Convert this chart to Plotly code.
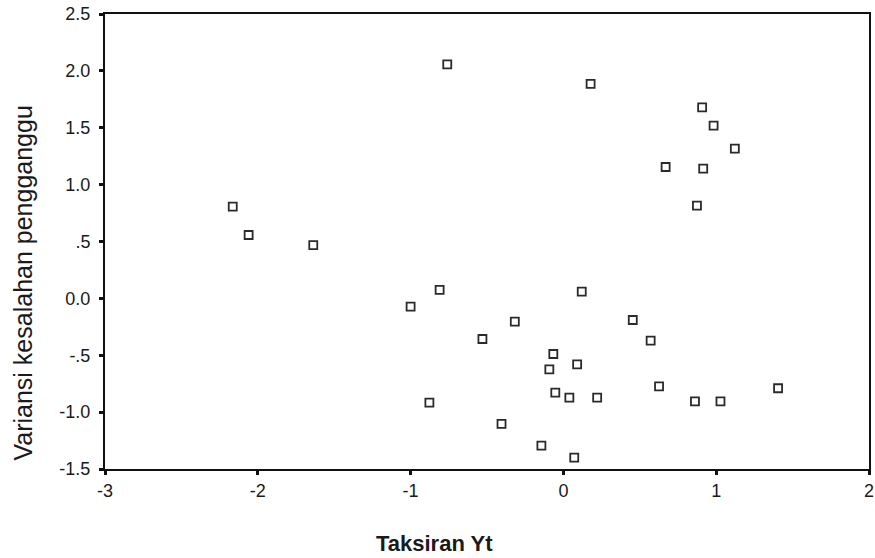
import plotly.graph_objects as go

x_vals = [-0.76, 0.178, 0.908, 0.983, 1.122, 0.669, 0.915, 0.874, -2.164, -2.06, -1.637,
          -0.81, 0.12, -1.0, -0.318, 0.454, -0.53, 0.571, -0.066, 0.09, -0.092, 0.626,
          1.405, -0.053, 0.039, 0.221, -0.877, 0.861, 1.028, -0.405, -0.144, 0.071]
y_vals = [2.058, 1.885, 1.68, 1.518, 1.316, 1.155, 1.14, 0.815, 0.806, 0.557, 0.469,
          0.074, 0.059, -0.073, -0.205, -0.19, -0.357, -0.372, -0.489, -0.58, -0.624, -0.773,
          -0.79, -0.829, -0.873, -0.873, -0.917, -0.905, -0.905, -1.104, -1.295, -1.40]

x_ticks = [-3, -2, -1, 0, 1, 2]
x_tick_text = ["-3", "-2", "-1", "0", "1", "2"]
y_ticks = [2.5, 2.0, 1.5, 1.0, 0.5, 0.0, -0.5, -1.0, -1.5]
y_tick_text = ["2.5", "2.0", "1.5", "1.0", ".5", "0.0", "-.5", "-1.0", "-1.5"]

x_title = "Taksiran Yt"
y_title = "Variansi kesalahan pengganggu"

font_family = "Liberation Sans, Arial, sans-serif"

W, H = 875, 558
L, R, T, B = 105, 1, 14, 89
pw, ph = W - L - R, H - T - B

fig = go.Figure()
fig.add_trace(go.Scatter(
    x=x_vals, y=y_vals, mode="markers",
    marker=dict(symbol="square-open", size=8, color="#2a2a2a", line=dict(width=1.8, color="#2a2a2a")),
    showlegend=False,
))

axis_common = dict(
    showgrid=False, zeroline=False, showline=True, mirror=True,
    linecolor="#111111", linewidth=2,
    ticks="outside", ticklen=4, tickwidth=3, tickcolor="#111111",
    tickfont=dict(family=font_family, size=18, color="#1a1a1a"),
    ticklabeloverflow="allow",
)

fig.update_layout(
    width=W, height=H,
    margin=dict(l=L, r=R, t=T, b=B),
    paper_bgcolor="white", plot_bgcolor="white",
    xaxis=dict(range=[-3, 2], tickvals=x_ticks, ticktext=x_tick_text, **axis_common),
    yaxis=dict(range=[-1.5, 2.5], tickvals=y_ticks, ticktext=y_tick_text,
               ticklabelstandoff=5, **axis_common),
    annotations=[
        dict(text="<b>" + x_title + "</b>", xref="paper", yref="paper",
             x=(437 - L) / pw, y=-(543 - (H - B)) / ph,
             xanchor="center", yanchor="middle", showarrow=False,
             font=dict(family=font_family, size=22, color="#1a1a1a")),
        dict(text=y_title, xref="paper", yref="paper",
             x=-(L - 22) / pw, y=((H - B) - 283) / ph,
             xanchor="center", yanchor="middle", showarrow=False, textangle=-90,
             font=dict(family=font_family, size=25, color="#1a1a1a")),
    ],
)

fig.write_html("out.html", config={"displayModeBar": False},
               post_script="document.body.style.margin='0';document.body.style.overflow='hidden';")
